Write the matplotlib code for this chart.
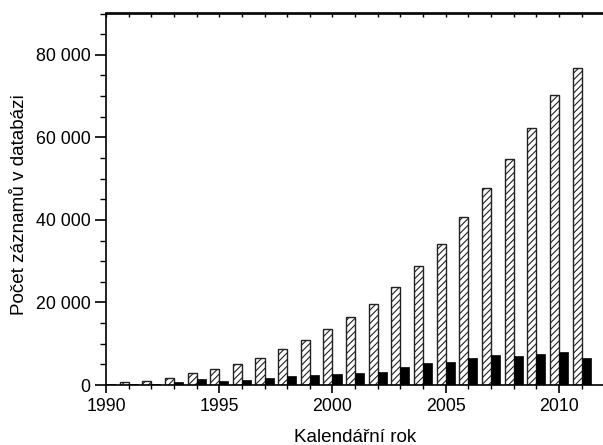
import matplotlib
matplotlib.use("Agg")
import matplotlib.pyplot as plt
from matplotlib.ticker import FuncFormatter, MultipleLocator, NullFormatter
import numpy as np

years = list(range(1990, 2012))
total = [0, 650, 970, 1620, 2910, 3800, 5010, 6460, 8640, 10980, 13570, 16480,
         19550, 23670, 28830, 34090, 40630, 47810, 54840, 62270, 70190, 76740]
subset = [240, 240, 240, 730, 1370, 1050, 1210, 1700, 2180, 2420, 2740, 2910,
          3150, 4280, 5330, 5490, 6540, 7270, 7030, 7510, 8080, 6620]
yticks = [0, 20000, 40000, 60000, 80000]

plt.rcParams['font.family'] = ['Liberation Sans', 'DejaVu Sans']
plt.rcParams['hatch.linewidth'] = 0.8

fig = plt.figure(figsize=(6.03, 4.45), dpi=100)
ax = fig.add_axes([106/603, 1 - 385/445, 1 - 106/603 + 0.002, (385 - 13.5)/445])

x = np.array(years)
w = 0.4
ax.bar(x - w/2, total, width=w, color='white', edgecolor='#222222', hatch='/////', linewidth=1.0)
ax.bar(x + w/2, subset, width=w, color='black', edgecolor='black', linewidth=0.5)

ax.set_xlim(1990, 2012)
ax.set_ylim(0, 90000)
ax.set_xticks([1990, 1995, 2000, 2005, 2010])
ax.xaxis.set_minor_locator(MultipleLocator(1))
ax.set_yticks(yticks)
ax.yaxis.set_minor_locator(MultipleLocator(5000))
ax.yaxis.set_major_formatter(FuncFormatter(lambda v, p: f"{int(v):,}".replace(",", " ")))

ax.spines['right'].set_visible(False)
for s in ax.spines.values():
    s.set_linewidth(1.2)
ax.tick_params(axis='y', which='major', direction='out', length=8, width=1.2, labelsize=12.8, pad=3)
ax.tick_params(axis='y', which='minor', direction='out', length=4.5, width=1.0)
ax.tick_params(axis='x', which='major', direction='out', length=5.5, width=1.2, labelsize=12.8, pad=4)
ax.tick_params(axis='x', which='minor', direction='out', length=3, width=1.0)

top = ax.secondary_xaxis('top')
top.set_xticks(years)
top.xaxis.set_major_formatter(NullFormatter())
top.tick_params(direction='in', length=3, width=1.0)
top.spines['top'].set_linewidth(1.2)

ax.set_xlabel("Kalendářní rok", fontsize=13.6, labelpad=10)
ax.set_ylabel("Počet záznamů v databázi", fontsize=13.6, labelpad=6)
ax.yaxis.set_label_coords(-0.156, 0.485)

fig.savefig("out.png", dpi=100)
